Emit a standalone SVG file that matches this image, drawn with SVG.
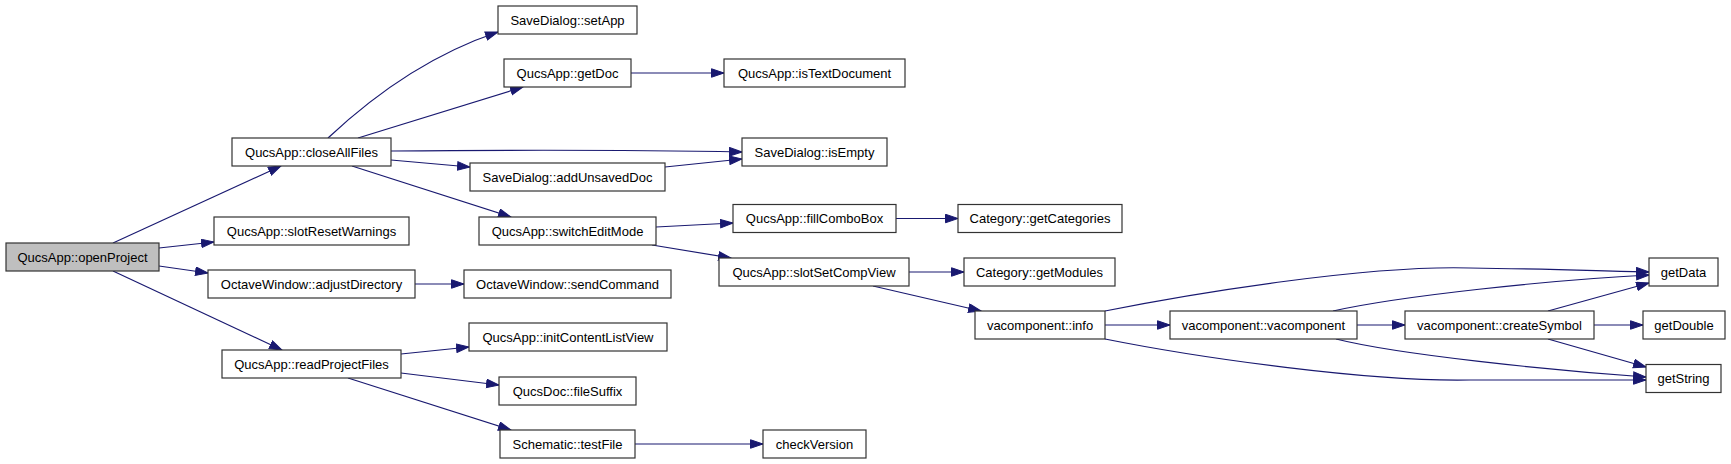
<svg xmlns="http://www.w3.org/2000/svg" width="1731" height="464" viewBox="0 0 1731 464">
<style>
.n rect{fill:#ffffff;stroke:#333333;stroke-width:1.2}
.n.root rect{fill:#bfbfbf}
.n text{font-family:"Liberation Sans",Arial,sans-serif;font-size:13px;fill:#000000;text-anchor:middle}
.e path{fill:none;stroke:#191970;stroke-width:1.2;marker-end:url(#arr)}
</style>
<defs>
<marker id="arr" markerUnits="userSpaceOnUse" markerWidth="14" markerHeight="10" refX="13" refY="4.75" orient="auto">
<path d="M0.5,0.5 L13,4.75 L0.5,9 z" fill="#191970" stroke="#191970" stroke-width="1"/>
</marker>
</defs>
<rect width="1731" height="464" fill="#ffffff"/>
<g id="edges" class="e">
<path d="M113,243 L281,166"/>
<path d="M159,248 L214,242"/>
<path d="M159,266 L208,273"/>
<path d="M113,271 L282,350"/>
<path d="M328,138 C360,108 420,58 498,32"/>
<path d="M358,138 L523,87"/>
<path d="M391,151 C500,150 640,150 742,152"/>
<path d="M391,160 L470,167"/>
<path d="M352,166 L511,217"/>
<path d="M631,73 L724,73"/>
<path d="M665,167 L742,159"/>
<path d="M656,227 L733,223"/>
<path d="M652,245 L731,258"/>
<path d="M896,218.5 L958,218.5"/>
<path d="M909,272 L964,272"/>
<path d="M873,286 L981,311"/>
<path d="M415,284 L464,284"/>
<path d="M401,354 L469,347"/>
<path d="M401,373 L499,385"/>
<path d="M348,378 L511,430"/>
<path d="M635,444 L763,444"/>
<path d="M1105,311 C1200,292 1370,265 1470,268 C1550,269 1600,271 1649,272"/>
<path d="M1333,311 C1400,296 1550,280 1649,275"/>
<path d="M1548,311 L1649,283"/>
<path d="M1105,339 C1200,358 1370,382 1470,380 C1550,380 1600,380 1646,380"/>
<path d="M1336,339 C1400,355 1550,370 1646,377"/>
<path d="M1357,325 L1405,325"/>
<path d="M1594,325 L1643,325"/>
<path d="M1548,339 L1646,367"/>
<path d="M1105,325 L1170,325"/>
</g>
<g id="openProject" class="n root"><rect x="6" y="243" width="153" height="28"/><text x="82.5" y="261.5">QucsApp::openProject</text></g>
<g id="closeAllFiles" class="n"><rect x="232" y="138" width="159" height="28"/><text x="311.5" y="156.5">QucsApp::closeAllFiles</text></g>
<g id="slotResetWarnings" class="n"><rect x="214" y="217" width="195" height="28"/><text x="311.5" y="235.5">QucsApp::slotResetWarnings</text></g>
<g id="adjustDirectory" class="n"><rect x="208" y="270" width="207" height="28"/><text x="311.5" y="288.5">OctaveWindow::adjustDirectory</text></g>
<g id="readProjectFiles" class="n"><rect x="222" y="350" width="179" height="28"/><text x="311.5" y="368.5">QucsApp::readProjectFiles</text></g>
<g id="setApp" class="n"><rect x="498" y="6" width="139" height="28"/><text x="567.5" y="24.5">SaveDialog::setApp</text></g>
<g id="getDoc" class="n"><rect x="504" y="59" width="127" height="28"/><text x="567.5" y="77.5">QucsApp::getDoc</text></g>
<g id="isEmpty" class="n"><rect x="742" y="138" width="145" height="28"/><text x="814.5" y="156.5">SaveDialog::isEmpty</text></g>
<g id="addUnsavedDoc" class="n"><rect x="470" y="163" width="195" height="28"/><text x="567.5" y="181.5">SaveDialog::addUnsavedDoc</text></g>
<g id="switchEditMode" class="n"><rect x="479" y="217" width="177" height="28"/><text x="567.5" y="235.5">QucsApp::switchEditMode</text></g>
<g id="isTextDocument" class="n"><rect x="724" y="59" width="181" height="28"/><text x="814.5" y="77.5">QucsApp::isTextDocument</text></g>
<g id="fillComboBox" class="n"><rect x="733" y="204.5" width="163" height="28"/><text x="814.5" y="223">QucsApp::fillComboBox</text></g>
<g id="slotSetCompView" class="n"><rect x="719" y="258" width="190" height="28"/><text x="814" y="276.5">QucsApp::slotSetCompView</text></g>
<g id="sendCommand" class="n"><rect x="464" y="270" width="207" height="28"/><text x="567.5" y="288.5">OctaveWindow::sendCommand</text></g>
<g id="initContentListView" class="n"><rect x="469" y="323" width="198" height="28"/><text x="568" y="341.5">QucsApp::initContentListView</text></g>
<g id="fileSuffix" class="n"><rect x="499" y="377" width="137" height="28"/><text x="567.5" y="395.5">QucsDoc::fileSuffix</text></g>
<g id="testFile" class="n"><rect x="500" y="430" width="135" height="28"/><text x="567.5" y="448.5">Schematic::testFile</text></g>
<g id="checkVersion" class="n"><rect x="763" y="430" width="103" height="28"/><text x="814.5" y="448.5">checkVersion</text></g>
<g id="getCategories" class="n"><rect x="958" y="204.5" width="164" height="28"/><text x="1040" y="223">Category::getCategories</text></g>
<g id="getModules" class="n"><rect x="964" y="258" width="151" height="28"/><text x="1039.5" y="276.5">Category::getModules</text></g>
<g id="info" class="n"><rect x="975" y="311" width="130" height="28"/><text x="1040" y="329.5">vacomponent::info</text></g>
<g id="vacomponent" class="n"><rect x="1170" y="311" width="187" height="28"/><text x="1263.5" y="329.5">vacomponent::vacomponent</text></g>
<g id="createSymbol" class="n"><rect x="1405" y="311" width="189" height="28"/><text x="1499.5" y="329.5">vacomponent::createSymbol</text></g>
<g id="getData" class="n"><rect x="1649" y="258" width="69" height="28"/><text x="1683.5" y="276.5">getData</text></g>
<g id="getDouble" class="n"><rect x="1643" y="311" width="82" height="28"/><text x="1684" y="329.5">getDouble</text></g>
<g id="getString" class="n"><rect x="1646" y="364.5" width="75" height="28"/><text x="1683.5" y="383">getString</text></g>
</svg>
